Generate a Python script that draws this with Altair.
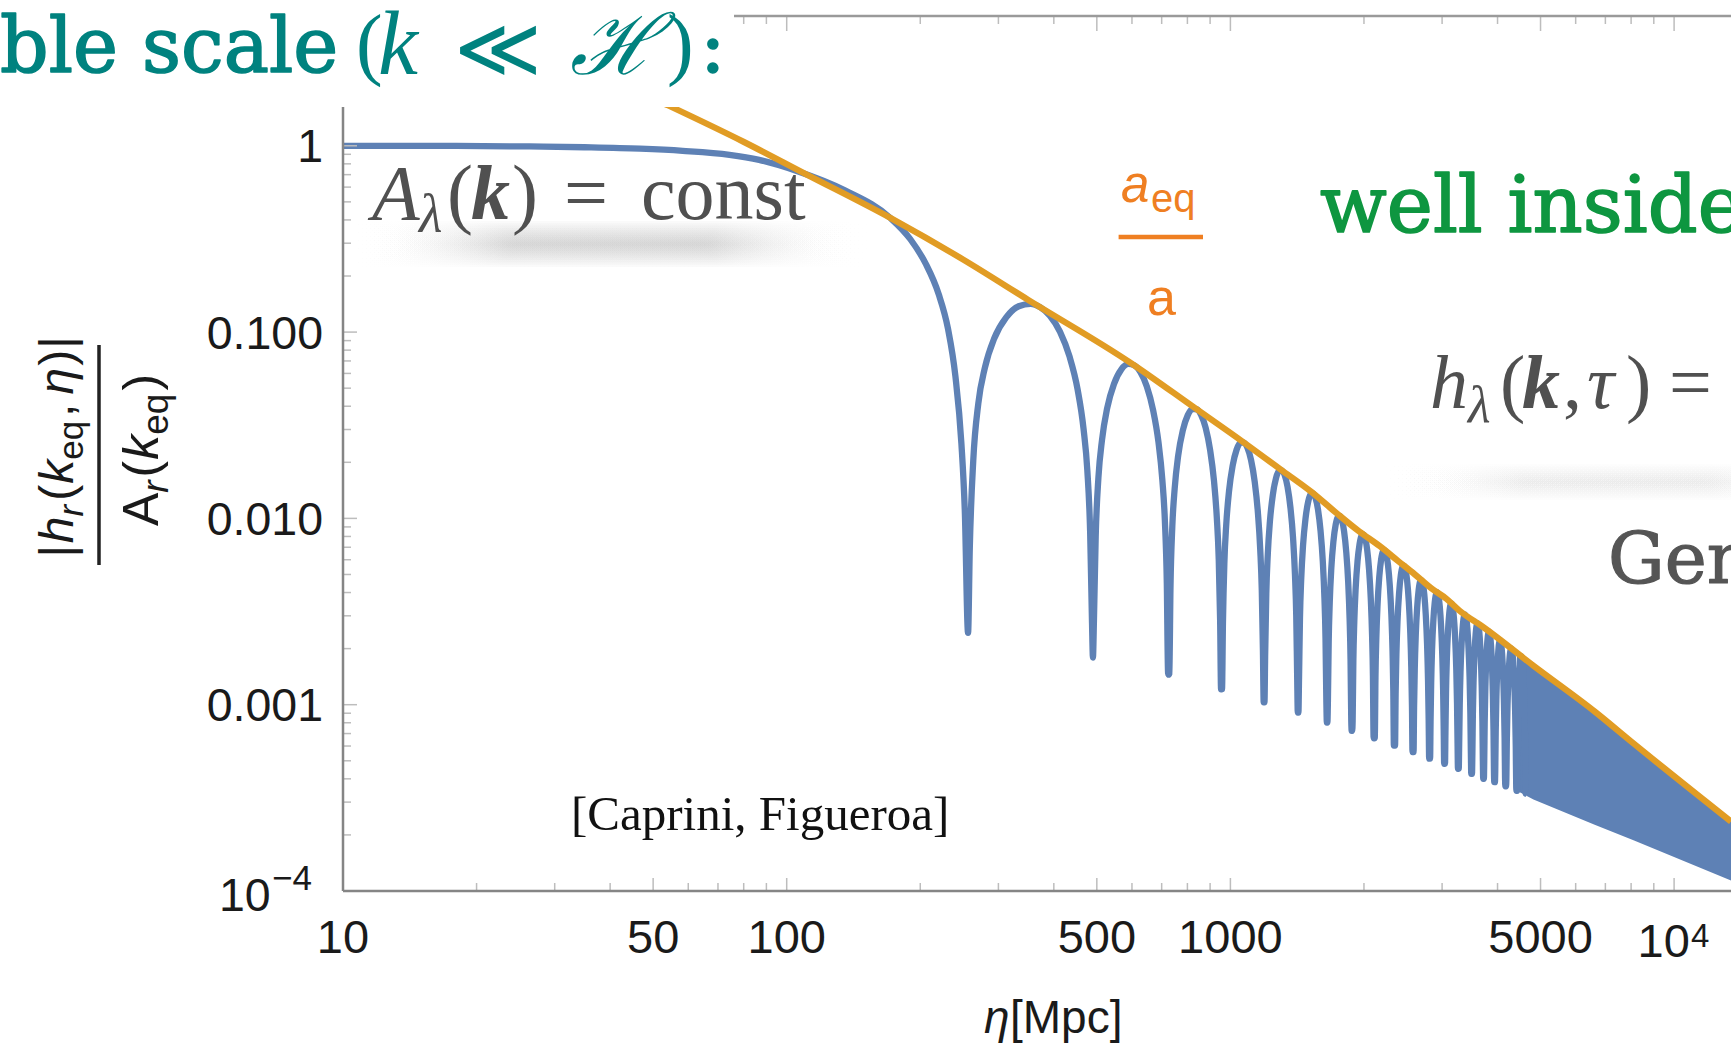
import altair as alt
import numpy as np
import pandas as pd

# ---------------- values ----------------
# blue curve |h_r(k_eq, eta)| / A_r(k_eq): super-horizon part up to the first zero
eta_early = [10, 18, 26.3, 35, 46.7, 58.3, 74.3, 86.7, 105, 135.6, 171, 190, 205.7, 220, 231, 240, 247.6, 252, 256.3]
h_early = [1.0, 0.998, 0.992, 0.982, 0.965, 0.94, 0.895, 0.84, 0.735, 0.575, 0.411, 0.315, 0.233, 0.16, 0.104, 0.058, 0.0252, 0.011, 0.00243]

# zeros of the oscillation (bottom of each spike) and the depth the spike reaches
trough_eta = [256.3, 490, 726, 955, 1191, 1421, 1652, 1879, 2109, 2343, 2580, 2812, 3039, 3264, 3497, 3720, 3939, 4173, 4422, 4639]
trough_h = [0.00243, 0.00179, 0.00145, 0.00121, 0.00103, 0.000906, 0.000802, 0.000723, 0.00066, 0.000603,
            0.000556, 0.000513, 0.000482, 0.000453, 0.000426, 0.0004, 0.000384, 0.000364, 0.000345, 0.000333]

# profile of one arch between two zeros (position inside the arch, height relative to the orange envelope)
arch_u = [0.01, 0.03, 0.06, 0.10, 0.16, 0.24, 0.33, 0.42, 0.50, 0.58, 0.67, 0.76, 0.84, 0.90, 0.94, 0.97, 0.99]
arch_r = [0.03, 0.09, 0.19, 0.31, 0.48, 0.68, 0.86, 0.97, 1.00, 0.97, 0.86, 0.68, 0.48, 0.31, 0.19, 0.09, 0.03]

# orange envelope a_eq / a
env_eta = [40, 53.7, 80, 110, 171, 250, 350, 597, 826, 1066, 1298, 1521, 1740, 1952, 2170, 2389, 2605,
           2841, 3069, 3282, 3721, 4820, 6622, 8100, 13437]
env_h = [2.3, 1.66, 1.05, 0.708, 0.411, 0.245, 0.149, 0.0682, 0.0396, 0.0258, 0.0183, 0.0139, 0.0106, 0.0085,
         0.0071, 0.0059, 0.0050, 0.0042, 0.0037, 0.0032, 0.0026, 0.00162, 0.00092, 0.00062, 0.000236]

# densely oscillating part, drawn as a solid blue band
band_eta = [4422, 4820, 6622, 8100, 13437]
band_lo = [0.000345, 0.00031, 0.000227, 0.000187, 0.000114]
band_hi = [0.0019, 0.00162, 0.00092, 0.00062, 0.000236]

# axis ticks and labels
x_label_vals = [10, 50, 100, 500, 1000, 5000]
x_label_text = ["10", "50", "100", "500", "1000", "5000"]
y_label_vals = [1, 0.1, 0.01, 0.001]
y_label_text = ["1", "0.100", "0.010", "0.001"]
x_major = [50, 100, 500, 1000, 5000, 10000]
x_minor = [20, 30, 40, 60, 70, 80, 90, 200, 300, 400, 600, 700, 800, 900,
           2000, 3000, 4000, 6000, 7000, 8000, 9000]
y_major = [0.001, 0.01, 0.1, 1]
y_minor = [m * 10.0 ** e for e in range(-4, 1) for m in range(2, 10)]

# ---------------- layout (pixels of the 1731x1051 page) ----------------
OX, OY = 343, 16          # top-left corner of the plot area
WP, HP = 1388, 875        # plot area size
PAGE_W, PAGE_H = 1731, 1051
Y_TOP = 4.973             # value at the top edge of the plot area

y_minor = [v for v in y_minor if v < Y_TOP]

# ---------------- build the tables ----------------
log_env_x = np.log10(env_eta)
log_env_y = np.log10(env_h)
blue_eta = list(eta_early)
blue_h = list(h_early)
for i in range(len(trough_eta) - 1):
    a, b = trough_eta[i], trough_eta[i + 1]
    for u, r in zip(arch_u, arch_r):
        e = a + u * (b - a)
        env = 10 ** np.interp(np.log10(e), log_env_x, log_env_y)
        floor = trough_h[i] if u < 0.5 else trough_h[i + 1]   # spikes never go below the read depth
        blue_eta.append(e)
        blue_h.append(max(r * env, floor))
    blue_eta.append(b)
    blue_h.append(trough_h[i + 1])

blue_df = pd.DataFrame({"eta": blue_eta, "h": blue_h, "i": range(len(blue_eta))})
env_df = pd.DataFrame({"eta": env_eta, "h": env_h, "i": range(len(env_eta))})
band_df = pd.DataFrame({"eta": band_eta, "lo": band_lo, "hi": band_hi})

BLUE = "#5E81B5"
GOLD = "#E19C24"
ORANGE = "#EF7F22"
TEAL = "#00827F"
GREEN = "#0E9640"
GRAY = "#505050"
AXIS = "#858585"
TICK = "#bdbdbd"
LAB = "#1a1a1a"

xscale = alt.Scale(type="log", domain=[10, 13435], nice=False, zero=False)
yscale = alt.Scale(type="log", domain=[1e-4, Y_TOP], nice=False, zero=False)

one = alt.Data(values=[{}])


def shadow(X0, X1, YC, H, color, steps, op):
    grad = {"gradient": "linear", "x1": 0, "y1": 0, "x2": 1, "y2": 0,
            "stops": [{"offset": 0, "color": "rgba(255,255,255,0)"},
                      {"offset": 0.3, "color": color},
                      {"offset": 0.7, "color": color},
                      {"offset": 1, "color": "rgba(255,255,255,0)"}]}
    out = []
    for k in range(steps):
        h = H * (1 - k / steps)
        shrink = 0.08 * (X1 - X0) * k / steps
        out.append(alt.Chart(one).mark_rect(color=grad, opacity=op, clip=True).encode(
            x=alt.value(X0 + shrink - OX), x2=alt.value(X1 - shrink - OX),
            y=alt.value(YC - h / 2 - OY), y2=alt.value(YC + h / 2 - OY)))
    return out


def hrule(X0, X1, Y, color, w):
    return alt.Chart(one).mark_rule(color=color, strokeWidth=w).encode(
        x=alt.value(X0 - OX), x2=alt.value(X1 - OX), y=alt.value(Y - OY))


def vrule(X, Y0, Y1, color, w):
    return alt.Chart(one).mark_rule(color=color, strokeWidth=w).encode(
        x=alt.value(X - OX), y=alt.value(Y0 - OY), y2=alt.value(Y1 - OY))


def xticks(vals, y0, y1):
    return alt.Chart(pd.DataFrame({"eta": vals})).mark_rule(color=TICK, strokeWidth=1.5).encode(
        x=alt.X("eta:Q", scale=xscale, axis=None), y=alt.value(y0), y2=alt.value(y1))


def yticks(vals, length):
    return alt.Chart(pd.DataFrame({"v": vals})).mark_rule(color=TICK, strokeWidth=1.5).encode(
        y=alt.Y("v:Q", scale=yscale, axis=None), x=alt.value(0), x2=alt.value(length))


# tick labels placed through the scales
x_labels = alt.Chart(pd.DataFrame({"eta": x_label_vals, "lab": x_label_text})).mark_text(
    font="Liberation Sans", fontSize=47, color=LAB, align="center", baseline="alphabetic"
).encode(x=alt.X("eta:Q", scale=xscale, axis=None), y=alt.value(953 - OY), text="lab:N")
y_labels = alt.Chart(pd.DataFrame({"v": y_label_vals, "lab": y_label_text})).mark_text(
    font="Liberation Sans", fontSize=46.5, color=LAB, align="right", baseline="alphabetic", dy=16.6
).encode(y=alt.Y("v:Q", scale=yscale, axis=None), x=alt.value(323 - OX), text="lab:N")

# ---------------- text pieces ----------------
rows = []


def T(txt, X, Y, fs, color, font, style="normal", weight="normal", ang=0, clip=False, sw=0.0):
    rows.append(dict(txt=txt, px=X - OX, py=Y - OY, fs=fs, col=color, font=font,
                     style=style, weight=weight, ang=ang, clip=clip, sw=sw))


SERIF = "Liberation Serif"
SANS = "Liberation Sans"
SLAB = "DejaVu Serif"

# title (partly outside the page on the left)
T("ble scale", 0, 72, 76, TEAL, SLAB, sw=1.6)
T("(", 356, 70, 80, TEAL, SERIF)
T("k", 378, 74, 90, TEAL, SERIF, "italic")
T("≪", 454, 77, 84, TEAL, "DejaVu Sans", weight="200")
T("ℋ", 570, 74, 84, TEAL, SLAB, "italic")
T(")", 667, 70, 80, TEAL, SERIF)
T(":", 700, 72, 76, TEAL, SLAB, sw=1.6)

# A_lambda(k) = const
T("A", 372, 218.5, 78, GRAY, SERIF, "italic")
T("λ", 419, 232, 54, GRAY, SERIF, "italic")
T("(", 447, 218.5, 78, GRAY, SERIF)
T("k", 471, 218.5, 78, GRAY, SERIF, "italic", "bold")
T(")", 512, 218.5, 78, GRAY, SERIF)
T("=", 564, 218.5, 78, GRAY, SERIF)
T("const", 641, 218.5, 78, GRAY, SERIF)

# a_eq / a
T("a", 1121, 201.7, 51, ORANGE, SANS, "italic")
T("eq", 1151, 212, 40, ORANGE, SANS)
T("a", 1147, 315, 52, ORANGE, SANS)

# right-hand slide text (runs off the page)
T("well inside", 1320, 231.7, 78, GREEN, SLAB, clip=True, sw=1.6)
T("h", 1430, 408.3, 76, GRAY, SERIF, "italic", clip=True)
T("λ", 1468, 422, 52, GRAY, SERIF, "italic", clip=True)
T("(", 1500, 408.3, 76, GRAY, SERIF, clip=True)
T("k", 1522, 408.3, 76, GRAY, SERIF, "italic", "bold", clip=True)
T(",", 1563, 408.3, 76, GRAY, SERIF, clip=True)
T("τ", 1587, 408.3, 76, GRAY, SERIF, "italic", clip=True)
T(")", 1626, 408.3, 76, GRAY, SERIF, clip=True)
T("=", 1669, 408.3, 76, GRAY, SERIF, clip=True)
T("General", 1608, 583, 71, "#555555", SLAB, clip=True, sw=1.2)

T("[Caprini, Figueroa]", 571, 830, 49, "#111111", SERIF)

# power-of-ten tick labels
T("10", 219, 911, 46.5, LAB, SANS)
T("−4", 272, 890, 35, LAB, SANS)
T("10", 1637.5, 957, 47, LAB, SANS)
T("4", 1691, 947, 33, LAB, SANS)

# x-axis title
T("η", 984, 1033, 46, LAB, SANS, "italic")
T("[Mpc]", 1010, 1033, 46, LAB, SANS)

# y-axis title: rotated fraction, laid out piece by piece
EM = {"|": 0.26, "h": 0.556, "r": 0.333, "(": 0.333, ")": 0.333, "k": 0.5, "e": 0.556, "q": 0.556,
      ",": 0.278, "η": 0.556, "A": 0.667}


def rotated(pieces, base_x, center_y, gaps):
    total = sum(sum(EM[c] for c in t) * fs for t, fs, it, sub in pieces) + sum(gaps)
    y = center_y + total / 2
    for (t, fs, it, sub), g in zip(pieces, gaps):
        T(t, base_x + (0.2 * fs / 0.72 if sub else 0), y, fs, LAB, SANS, "italic" if it else "normal", ang=270)
        y -= sum(EM[c] for c in t) * fs + g


num = [("|", 48, False, False), ("h", 48, True, False), ("r", 35, True, True), ("(", 48, False, False),
       ("k", 48, True, False), ("eq", 35, False, True), (",", 48, False, False), ("η", 48, True, False),
       (")", 48, False, False), ("|", 48, False, False)]
rotated(num, 73, 447, [2, 0, 4, 1, 0, 4, 9, 2, 1, 0])
den = [("A", 50, False, False), ("r", 37, True, True), ("(", 50, False, False), ("k", 50, True, False),
       ("eq", 37, False, True), (")", 50, False, False)]
rotated(den, 158, 450, [0, 3, 1, 0, 3, 0])

tdf = pd.DataFrame(rows)
text_layers = []
for (font, style, weight, clip, sw), g in tdf.groupby(["font", "style", "weight", "clip", "sw"], sort=False):
    fw = int(weight) if weight.isdigit() else weight
    props = dict(font=font, fontStyle=style, fontWeight=fw, align="left", baseline="alphabetic",
                 clip=bool(clip))
    enc = dict(
        x=alt.X("px:Q", scale=None, axis=None),
        y=alt.Y("py:Q", scale=None, axis=None),
        text="txt:N",
        size=alt.Size("fs:Q", scale=None, legend=None),
        color=alt.Color("col:N", scale=None, legend=None),
        angle=alt.Angle("ang:Q", scale=None, legend=None),
    )
    if sw > 0:
        props["strokeWidth"] = float(sw)
        props["strokeJoin"] = "round"
        enc["stroke"] = alt.Stroke("col:N", scale=None, legend=None)
    text_layers.append(
        alt.Chart(g.drop(columns=["clip", "sw"]).reset_index(drop=True)).mark_text(**props).encode(**enc)
    )

# ---------------- data layers ----------------
band = alt.Chart(band_df).mark_area(color=BLUE, opacity=1, clip=True).encode(
    x=alt.X("eta:Q", scale=xscale, axis=None),
    y=alt.Y("lo:Q", scale=yscale, axis=None),
    y2="hi:Q",
)
blue = alt.Chart(blue_df).mark_line(color=BLUE, strokeWidth=6.3, clip=True, interpolate="monotone",
                                    strokeJoin="bevel").encode(
    x=alt.X("eta:Q", scale=xscale, axis=None),
    y=alt.Y("h:Q", scale=yscale, axis=None),
    order="i:Q",
)
orange = alt.Chart(env_df).mark_line(color=GOLD, strokeWidth=6.3, clip=True, interpolate="monotone").encode(
    x=alt.X("eta:Q", scale=xscale, axis=None),
    y=alt.Y("h:Q", scale=yscale, axis=None),
    order="i:Q",
)

layers = (
    shadow(345, 875, 244, 46, "#a8a8a8", 10, 0.058)
    + shadow(1370, 1860, 482, 36, "#a8a8a8", 10, 0.022)
    + [
        band, blue, orange,
        xticks(x_major, HP, HP - 13), xticks(x_minor, HP, HP - 8),
        xticks(x_major, 0, 15), xticks(x_minor, 0, 8),
        yticks(y_major, 14), yticks(y_minor, 8),
        vrule(OX, OY, OY + HP, AXIS, 2.5),
        hrule(OX, OX + WP, OY + HP, AXIS, 2.5),
        hrule(OX, OX + WP, OY, "#9a9a9a", 2.5),
        alt.Chart(one).mark_rect(color="white").encode(
            x=alt.value(0 - OX), x2=alt.value(734 - OX), y=alt.value(0 - OY), y2=alt.value(107 - OY)),
        vrule(99, 345, 565, "#222222", 3.5),
        hrule(1118.6, 1203, 237, ORANGE, 4.5),
        x_labels, y_labels,
    ]
    + text_layers
)

chart = alt.layer(*layers).properties(
    width=WP, height=HP,
    autosize=alt.AutoSizeParams(type="none"),
    padding={"left": OX, "top": OY, "right": PAGE_W - OX - WP, "bottom": PAGE_H - OY - HP},
).configure_view(stroke=None).configure(background="white")

chart.save("out.html", embed_options={"renderer": "svg", "actions": False})
